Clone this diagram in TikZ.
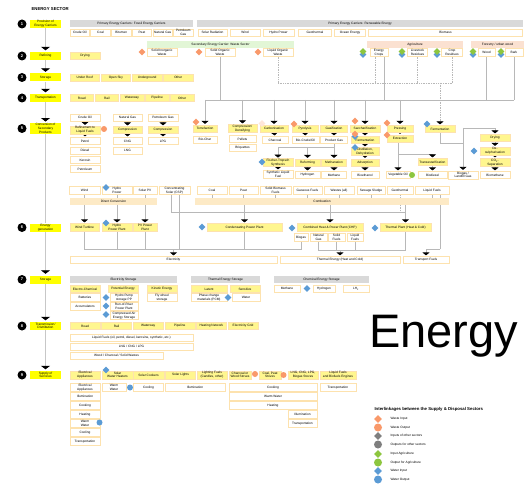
\documentclass[tikz,border=0pt]{standalone}
\usepackage{fontspec}
\setmainfont{Liberation Sans}
\usetikzlibrary{arrows.meta,shapes.geometric,backgrounds}

\definecolor{stageyel}{HTML}{FFFF00}
\definecolor{procyel}{HTML}{FFF68F}
\definecolor{edgeor}{HTML}{FDE2AE}
\definecolor{headgray}{HTML}{D9D9D9}
\definecolor{headgreen}{HTML}{E2F6D6}
\definecolor{headpeach}{HTML}{FBE1D1}
\definecolor{barbeige}{HTML}{FDEAC6}
\definecolor{wasteor}{HTML}{F9996A}
\definecolor{agrigreen}{HTML}{8DC63F}
\definecolor{waterblue}{HTML}{5B9BD5}
\definecolor{othergray}{HTML}{7F7F7F}
\definecolor{linkgray}{HTML}{B8B8B8}

\tikzset{
  stagebox/.style={fill=stageyel, minimum width=31pt, minimum height=8pt, inner sep=0.4pt, align=center},
  stagenum/.style={circle, fill=black, minimum size=9pt, inner sep=0pt, text=white, font=\fontsize{4}{4}\selectfont\bfseries},
  wbox/.style={draw=edgeor, line width=0.6pt, fill=white, minimum height=7pt, inner sep=0.3pt, align=center},
  ybox/.style={wbox, fill=procyel},
  hgray/.style={fill=headgray, minimum height=7pt, inner sep=0.3pt},
  hgreen/.style={hgray, fill=headgreen},
  hpeach/.style={hgray, fill=headpeach},
  hbar/.style={hgray, fill=barbeige},
  wdia/.style={diamond, fill=wasteor, minimum size=7pt, inner sep=0pt},
  wdot/.style={circle, fill=wasteor, minimum size=6pt, inner sep=0pt},
  bdia/.style={wdia, fill=waterblue},
  bdot/.style={wdot, fill=waterblue},
  gdia/.style={wdia, fill=agrigreen},
  gdot/.style={wdot, fill=agrigreen},
  odia/.style={wdia, fill=othergray},
  odot/.style={wdot, fill=othergray},
  link/.style={draw=linkgray, line width=0.7pt},
  dlink/.style={link, densely dotted},
  feed/.style={link, shorten >=0.8pt, -{Triangle[width=7pt,length=3pt,color=black]}},
  dfeed/.style={dlink, shorten >=0.8pt, -{Triangle[width=7pt,length=3pt,color=black]}},
  spine/.style={draw=black!22, line width=1.8pt},
}

\begin{document}
\begin{tikzpicture}[x=1pt, y=-1pt, font=\fontsize{3.2}{3.7}\selectfont]
  \begin{scope}[on background layer]
    \fill[white] (0,0) rectangle (530,492);
  \end{scope}
  \useasboundingbox (0,0) rectangle (530,492);

  \node[font=\fontsize{4.3}{5}\selectfont\bfseries, anchor=west] (title) at (28,9.5) {ENERGY SECTOR};

  % stages
  \foreach \n/\y/\t in {1/24/{Provision of\\Energy Carriers}, 2/56/Refining, 3/77.5/Storage, 4/98/Transportation, 5/128.5/{Conversion of\\Secondary\\Products}, 6/227.5/{Energy\\generation}, 7/279.5/Storage, 8/326/{Transmission/\\Distribution}, 9/375/{Supply of\\Services}}{
    \node[stagebox] (stage\n) at (45.5,\y) {\t};
    \node[stagenum] (num\n) at (22,\y) {\n};
  }

  % 1 provision
  \node[hgray, minimum width=123pt] (fossilhd) at (131.5,24) {Primary Energy Carriers: Fossil Energy Carriers};
  \foreach \n/\x/\t in {1/79.8/Crude Oil, 2/100.5/Coal, 3/121.2/Bitumen, 4/141.9/Peat, 5/162.6/Natural Gas, 6/183.3/{Petroleum\\Gas}}
    \node[wbox, minimum width=19.5pt] (fossil\n) at (\x,32.5) {\t};
  \node[hgray, minimum width=326pt] (renewhd) at (360,24) {Primary Energy Carriers: Renewable Energy};
  \node[wbox, minimum width=29pt] (solarsrc) at (212.5,32.5) {Solar Radiation};
  \node[wbox, minimum width=30pt] (windsrc1) at (245,32.5) {Wind};
  \node[wbox, minimum width=31pt] (hydsrc1) at (278.5,32.5) {Hydro Power};
  \node[wbox, minimum width=33pt] (geosrc1) at (315,32.5) {Geothermal};
  \node[wbox, minimum width=31pt] (oceansrc) at (350,32.5) {Ocean Energy};
  \node[wbox, minimum width=154pt] (biosrc) at (445.5,32.5) {Biomass};

  % 2 refining
  \node[ybox, minimum width=30pt, minimum height=7.5pt] (drying1) at (85,56) {Drying};
  \node[hgreen, minimum width=147pt] (wastehd) at (220.5,44.5) {Secondary Energy Carrier: Waste Sector};
  \node[wbox, minimum width=30pt, minimum height=8pt] (inorg) at (162,52.5) {Solid Inorganic\\Waste};
  \node[wbox, minimum width=30pt, minimum height=8pt] (orgsol) at (220,52.5) {Solid Organic\\Waste};
  \node[wbox, minimum width=30pt, minimum height=8pt] (orgliq) at (278,52.5) {Liquid Organic\\Waste};
  \node[wdia] (wd1) at (142,52) {};
  \node[wdia] (wd2) at (199,52) {};
  \node[wdia] (wd3) at (258,52) {};
  \node[hpeach, minimum width=96pt] (agrihd) at (415,44.5) {Agriculture};
  \node[hpeach, minimum width=53pt] (foresthd) at (497.5,44.5) {Forestry / urban wood};
  \node[wbox, minimum width=18pt, minimum height=8pt] (encrops) at (379,52.5) {Energy\\Crops};
  \node[wbox, minimum width=20pt, minimum height=8pt] (livest) at (417.5,52.5) {Livestock\\Residues};
  \node[wbox, minimum width=21pt, minimum height=8pt] (cropres) at (452,52.5) {Crop\\Residues};
  \node[wbox, minimum width=17pt, minimum height=8pt] (wood) at (486.5,52.5) {Wood};
  \node[wbox, minimum width=18pt, minimum height=8pt] (bark) at (514,52.5) {Bark};
  \foreach \n/\x in {1/363, 2/402, 3/437, 4/473, 5/501}{
    \node[bdia] (agb\n) at (\x,54.5) {};
    \node[gdia] (agg\n) at (\x,51.5) {};
  }

  % 3 storage, 4 transportation
  \foreach \n/\x/\t in {1/84.75/Under Roof, 2/115.9/Open Sky, 3/147.1/Underground, 4/178.25/Other}
    \node[ybox, minimum width=29.5pt] (stor\n) at (\x,77.5) {\t};
  \foreach \n/\x/\t in {1/81.8/Road, 2/106.9/Rail, 3/132/Waterway, 4/157.1/Pipeline, 5/182.2/Other}
    \node[ybox, minimum width=23.6pt] (transp\n) at (\x,98) {\t};

  % 5 conversion, fossil
  \node[wbox, minimum width=30pt] (crude5) at (85,117.5) {Crude Oil};
  \node[wbox, minimum width=29pt] (natgas5) at (127.5,117.5) {Natural Gas};
  \node[wbox, minimum width=30pt] (petgas5) at (163,117.5) {Petroleum Gas};
  \node[ybox, minimum width=30pt, minimum height=8pt] (refine) at (85,130) {Refinement to\\Liquid Fuels};
  \node[wdot] (wo1) at (104,129) {};
  \node[ybox, minimum width=29pt] (compr1) at (127.5,130) {Compression};
  \node[ybox, minimum width=30pt] (compr2) at (163,130) {Compression};
  \foreach \n/\y/\t in {1/141/Petrol, 2/150.5/Diesel, 3/160/Kerosin, 4/169/Petroleum}
    \node[wbox, minimum width=30pt] (fuel\n) at (85,\y) {\t};
  \node[wbox, minimum width=29pt] (cng) at (127.5,141) {CNG};
  \node[wbox, minimum width=29pt] (lng) at (127.5,150.5) {LNG};
  \node[wbox, minimum width=30pt] (lpg) at (163,141) {LPG};

  % 5 conversion, biomass
  \node[ybox, minimum width=24pt] (torref) at (205,128.5) {Torrefaction};
  \node[ybox, minimum width=29pt, minimum height=8pt] (densif) at (242.5,128.5) {Compression/\\Densifying};
  \node[ybox, minimum width=28pt] (carbon) at (274,128.5) {Carbonisation};
  \node[ybox, minimum width=26pt] (pyrol) at (305,128.5) {Pyrolysis};
  \node[ybox, minimum width=27pt] (gasif) at (334,128.5) {Gasification};
  \node[ybox, minimum width=30pt] (saccha) at (365,128.5) {Saccharification};
  \node[ybox, minimum width=26pt] (press) at (400,128.5) {Pressing};
  \node[ybox, minimum width=30pt] (ferm2) at (440,129) {Fermentation};
  \node[wbox, minimum width=24pt] (biochar) at (205,139.5) {Bio-Char};
  \node[wbox, minimum width=27pt] (pellets) at (242.5,139) {Pellets};
  \node[wbox, minimum width=27pt] (briq) at (242.5,148) {Briquettes};
  \node[wbox, minimum width=26pt] (charcoal) at (275,140) {Charcoal};
  \node[wbox, minimum width=27pt] (biocrude) at (305.5,140) {Bio-Crude/Oil};
  \node[wbox, minimum width=27pt] (prodgas) at (334,140) {Product Gas};
  \node[ybox, minimum width=28pt] (ferm1) at (365,140) {Fermentation};
  \node[ybox, minimum width=28pt, minimum height=8pt] (distil) at (365,151.5) {Distillation,\\Dehydration};
  \node[ybox, minimum width=28pt] (adsorp) at (365,162.5) {Adsorption};
  \node[wbox, minimum width=28pt] (bioeth) at (365,175) {Bioethanol};
  \node[ybox, minimum width=26pt] (extract) at (400,138.5) {Extraction};
  \node[wbox, minimum width=24pt] (vegoil) at (398,175) {Vegetable Oil};
  \node[ybox, minimum width=29pt] (transest) at (432.5,162) {Transesterification};
  \node[wbox, minimum width=29pt] (biodies) at (432.5,175) {Biodiesel};
  \node[ybox, minimum width=30pt] (drying2) at (495,138) {Drying};
  \node[ybox, minimum width=30pt, minimum height=8pt] (desulph) at (495,151) {De-\\sulphurisation};
  \node[ybox, minimum width=30pt, minimum height=8pt] (co2sep) at (495,162.5) {CO\textsubscript{2}-\\Separation};
  \node[wbox, minimum width=30pt] (biometh) at (495,175) {Biomethane};
  \node[wbox, minimum width=30pt, minimum height=8pt] (biogas) at (463,175) {Biogas /\\Landfill Gas};
  \node[ybox, minimum width=30pt, minimum height=7.5pt] (ftsyn) at (278,162.5) {Fischer-Tropsch\\Synthesis};
  \node[wbox, minimum width=30pt, minimum height=8pt] (synfuel) at (278,174.5) {Synthetic Liquid\\Fuel};
  \node[ybox, minimum width=25pt] (reform) at (307.5,162.5) {Reforming};
  \node[wbox, minimum width=25pt] (hydrog5) at (307.5,175) {Hydrogen};
  \node[ybox, minimum width=25pt] (methan) at (334,162.5) {Methanation};
  \node[wbox, minimum width=25pt] (methane5) at (334,175) {Methane};
  \node[wdia] (wd4) at (196,122) {};
  \node[wdia, fill=wasteor!25] (wd5) at (262,123.5) {};
  \node[wdia] (wd6) at (294,124) {};
  \node[wdia] (wd7) at (355,121) {};
  \node[bdia] (bd1) at (355,136.5) {};
  \node[wdia] (wd8) at (355,134) {};
  \node[bdia] (bd2) at (355,147.5) {};
  \node[wdia] (wd9) at (387,123) {};
  \node[wdia] (wd10) at (387,135) {};
  \node[bdia] (bd3) at (427,124) {};
  \node[bdia] (bd4) at (474,151) {};
  \node[bdia] (bd5) at (262,162) {};
  \node[gdot] (go1) at (412,175) {};

  % 6 energy generation
  \node[wbox, minimum width=31pt, minimum height=8pt] (windsrc) at (84.5,190.5) {Wind};
  \node[wbox, minimum width=30pt, minimum height=8pt] (hydsrc) at (117,190.5) {Hydro\\Power};
  \node[wbox, minimum width=24pt, minimum height=8pt] (pvsrc) at (145,190.5) {Solar PV};
  \node[wbox, minimum width=31pt, minimum height=8pt] (csp) at (174.5,190.5) {Concentrating\\Solar (CSP)};
  \node[wbox, minimum width=30pt, minimum height=8pt] (coal6) at (212,190.5) {Coal};
  \node[wbox, minimum width=29pt, minimum height=8pt] (peat6) at (243.5,190.5) {Peat};
  \node[wbox, minimum width=31pt, minimum height=8pt] (solbio) at (275.5,190.5) {Solid Biomass\\Fuels};
  \node[wbox, minimum width=29pt, minimum height=8pt] (gasf) at (307.5,190.5) {Gaseous Fuels};
  \node[wbox, minimum width=30pt, minimum height=8pt] (wastes) at (339,190.5) {Wastes (all)};
  \node[wbox, minimum width=28pt, minimum height=8pt] (sewage) at (371,190.5) {Sewage Sludge};
  \node[wbox, minimum width=26pt, minimum height=8pt] (geoth) at (400,190.5) {Geothermal};
  \node[wbox, minimum width=34pt, minimum height=8pt] (liqf) at (432,190.5) {Liquid Fuels};
  \node[bdia] (bd6) at (106,187.5) {};
  \node[hbar, minimum width=87pt] (dirconv) at (113.5,201.5) {Direct Conversion};
  \node[hbar, minimum width=254pt] (combust) at (322,201.5) {Combustion};
  \node[ybox, minimum width=29pt, minimum height=8pt] (wturb) at (84.5,227.5) {Wind Turbine};
  \node[ybox, minimum width=30pt, minimum height=8pt] (hydpp) at (117,227.5) {Hydro\\Power Plant};
  \node[ybox, minimum width=24pt, minimum height=8pt] (pvpp) at (145,227.5) {PV Power\\Plant};
  \node[ybox, minimum width=75pt, minimum height=8pt] (condens) at (244.5,227.5) {Condensating Power Plant};
  \node[ybox, minimum width=66pt, minimum height=8pt] (chp) at (330,227.5) {Combined Heat \& Power Plant (CHP)};
  \node[ybox, minimum width=51pt, minimum height=8pt] (thermpl) at (405.5,227.5) {Thermal Plant (Heat \& Cold)};
  \node[bdia] (bd7) at (106,223) {};
  \node[bdia] (bd8) at (202,227) {};
  \node[bdia] (bd9) at (292,228) {};
  \node[bdia] (bd10) at (375,228) {};
  \node[wbox, minimum width=14pt, minimum height=8pt] (chpbg) at (301,237.5) {Biogas};
  \node[wbox, minimum width=17pt, minimum height=8pt] (chpng) at (318.5,237.5) {Natural\\Gas};
  \node[wbox, minimum width=17pt, minimum height=8pt] (chpsf) at (336.5,237.5) {Solid\\Fuels};
  \node[wbox, minimum width=16pt, minimum height=8pt] (chplf) at (355,237.5) {Liquid\\Fuels};
  \node[wbox, minimum width=207pt] (elec) at (173.5,260) {Electricity};
  \node[wbox, minimum width=120pt] (theng) at (340,260) {Thermal Energy (Heat and Cold)};
  \node[wbox, minimum width=46pt] (tfuel) at (426,260) {Transport Fuels};

  % 7 storage
  \node[hgray, minimum width=107pt] (elstorhd) at (123.5,279.5) {Electricity Storage};
  \node[ybox, minimum width=30pt] (elchem) at (85,289) {Electro-Chemical};
  \node[ybox, minimum width=30pt] (potent) at (123,289) {Potential Energy};
  \node[ybox, minimum width=30pt] (kinet) at (162,289) {Kinetic Energy};
  \node[wbox, minimum width=30pt, minimum height=8pt] (batt) at (85,297.5) {Batteries};
  \node[wbox, minimum width=30pt, minimum height=8pt] (accum) at (85,306.5) {Accumulators};
  \node[wbox, minimum width=28pt, minimum height=8pt] (pumpst) at (124,297.5) {Hydro Pump\\storage PP};
  \node[wbox, minimum width=28pt, minimum height=8pt] (rorpp) at (124,306.5) {Run-of-River\\Power Plant};
  \node[wbox, minimum width=28pt, minimum height=8pt] (caes) at (124,315.5) {Compressed Air\\Energy Storage};
  \node[wbox, minimum width=30pt, minimum height=8pt] (flywh) at (162,297.5) {Fly wheel\\storage};
  \node[bdia] (bd11) at (106,297.5) {};
  \node[bdia] (bd12) at (106,306) {};
  \node[bdia] (bd13) at (106,314.5) {};
  \node[hgray, minimum width=69pt] (thstorhd) at (225.5,279.5) {Thermal Energy Storage};
  \node[ybox, minimum width=36pt] (latent) at (209,289) {Latent};
  \node[ybox, minimum width=30pt] (sensit) at (245,289) {Sensitive};
  \node[wbox, minimum width=36pt, minimum height=8pt] (pcm) at (209,297.5) {Phase change\\materials (PCM)};
  \node[wbox, minimum width=28pt, minimum height=8pt] (water7) at (246,297.5) {Water};
  \node[bdia] (bd14) at (228,297.5) {};
  \node[hgray, minimum width=95pt] (chstorhd) at (321.5,279.5) {Chemical Energy Storage};
  \node[wbox, minimum width=26pt] (methane7) at (287,288.5) {Methane};
  \node[wbox, minimum width=22pt] (hydrog7) at (324,288.5) {Hydrogen};
  \node[wbox, minimum width=26pt] (lh7) at (356,288.5) {LH\textsubscript{2}};
  \node[bdia] (bd15) at (307,288.5) {};

  % 8 transmission
  \foreach \n/\x/\t in {1/85/Road, 2/116.6/Rail, 3/148.2/Waterway, 4/179.8/Pipeline, 5/211.4/Heating Network, 6/243/Electricity Grid}
    \node[ybox, minimum width=30pt] (trans\n) at (\x,326) {\t};
  \node[wbox, minimum width=123pt] (liqdist) at (131.5,338) {Liquid Fuels (oil, petrol, diesel, kerosine, synthetic, etc.)};
  \node[wbox, minimum width=123pt] (gasdist) at (131.5,346.5) {LNG / CNG / LPG};
  \node[wbox, minimum width=93pt] (soldist) at (116.5,355.5) {Wood / Charcoal / Solid Wastes};

  % 9 supply of services
  \node[ybox, minimum width=30pt, minimum height=8pt] (elappl) at (85,375) {Electrical\\Appliances};
  \node[ybox, minimum width=31pt, minimum height=8pt] (solwh) at (117.5,375) {Solar\\Water Heaters};
  \node[ybox, minimum width=31pt, minimum height=8pt] (solcook) at (148.5,375) {Solar Cookers};
  \node[ybox, minimum width=30pt, minimum height=8pt] (sollight) at (180.5,375) {Solar Lights};
  \node[ybox, minimum width=30pt, minimum height=8pt] (lightf) at (212,375) {Lighting Fuels\\(Candles, other)};
  \node[ybox, minimum width=22pt, minimum height=8pt] (woodst) at (240,375) {Charcoal or\\Wood Stoves};
  \node[ybox, minimum width=22pt, minimum height=8pt] (coalst) at (270,375) {Coal, Peat\\Stoves};
  \node[ybox, minimum width=30pt, minimum height=8pt] (gasst) at (303,375) {LNG, CNG, LPG,\\Biogas Stoves};
  \node[ybox, minimum width=36pt, minimum height=8pt] (engines) at (338,375) {Liquid Fuels\\and Biofuels Engines};
  \node[bdia] (bd16) at (106,370) {};
  \node[wdot] (wo2) at (255,374) {};
  \node[wdot] (wo3) at (283.5,375) {};
  \foreach \n/\y/\t in {1/387.5/{Electrical\\Appliances}, 2/396.5/Illumination, 3/405.5/Cooking, 4/414.5/Heating, 5/423.5/{Warm\\Water}, 6/432.5/Cooling, 7/441.5/Transportation}
    \node[wbox, minimum width=30pt, minimum height=8pt] (serv\n) at (85,\y) {\t};
  \node[bdot] (bo1) at (99.5,422.5) {};
  \node[wbox, minimum width=24pt, minimum height=8pt] (warmw) at (114,387.5) {Warm\\Water};
  \node[bdot] (bo2) at (130,387.5) {};
  \node[wbox, minimum width=30pt, minimum height=8pt] (coolg) at (148.5,387.5) {Cooling};
  \node[wbox, minimum width=60pt, minimum height=8pt] (illum) at (195,387.5) {Illumination};
  \node[wbox, minimum width=88pt, minimum height=8pt] (cookst) at (273,387.5) {Cooking};
  \node[wbox, minimum width=88pt, minimum height=8pt] (warmst) at (273,396.5) {Warm Water};
  \node[wbox, minimum width=88pt, minimum height=8pt] (heatst) at (273,405.5) {Heating};
  \node[wbox, minimum width=29pt, minimum height=8pt] (illumst) at (302.5,414.5) {Illumination};
  \node[wbox, minimum width=29pt, minimum height=8pt] (transst) at (302.5,423.5) {Transportation};
  \node[wbox, minimum width=36pt, minimum height=8pt] (transeng) at (338,387.5) {Transportation};

  % legend
  \node[font=\fontsize{4.3}{5}\selectfont\bfseries, anchor=west] (leghd) at (371,409) {Interlinkages between the Supply \& Disposal Sectors};
  \foreach \n/\y/\s/\t in {1/419/wdia/Waste Input, 2/427.5/wdot/Waste Output, 3/436/odia/Inputs of other sectors, 4/444.5/odot/Outputs for other sectors, 5/454/gdia/Input Agriculture, 6/462.5/gdot/Output for Agriculture, 7/471/bdia/Water Input, 8/479.5/bdot/Water Output}{
    \node[\s, minimum size=8pt] (legsym\n) at (378,\y) {};
    \node[anchor=west] (legtxt\n) at (387,\y) {\t};
  }
  \node[font=\fontsize{47}{47}\selectfont, anchor=base west, inner sep=0pt] (bigword) at (369,347) {Energy};

  % connectors
  \begin{scope}[on background layer]
    \foreach \a/\b in {1/2, 2/3, 3/4, 4/5, 6/7, 7/8, 8/9}
      \draw[spine, shorten >=1.5pt, -{Triangle[width=9pt,length=3.5pt,color=black]}] (stage\a) -- (stage\b);
    \draw[spine] (stage5) -- (stage6);

    \draw[feed] (crude5) -- (refine);
    \draw[feed] (natgas5) -- (compr1);
    \draw[feed] (petgas5) -- (compr2);
    \draw[feed] (refine) -- (fuel1);
    \draw[feed] (compr1) -- (cng);
    \draw[feed] (compr2) -- (lpg);

    \coordinate (bioL) at (205,100);
    \coordinate (bioR) at (514,100);
    \coordinate (dotL) at (278,83);
    \coordinate (dotR) at (452,83);
    \draw[link] (bioL) -- (bioR);
    \draw[link] (orgsol) -- (orgsol |- bioL);
    \draw[link] (wood) -- (wood |- bioL);
    \draw[link] (bark) -- (bark |- bioL);
    \draw[link] ([xshift=5pt]encrops.south) -- ([xshift=5pt]encrops.south |- bioL);
    \draw[dlink] (dotL) -- (dotR);
    \draw[dlink] (orgliq) -- (orgliq |- dotL);
    \draw[dlink] ([xshift=-4pt]encrops.south) -- ([xshift=-4pt]encrops.south |- dotL);
    \draw[dlink] (livest) -- (livest |- dotL);
    \draw[dlink] (cropres) -- (cropres |- dotL);
    \draw[dfeed] (ferm2 |- dotL) -- (ferm2);
    \foreach \p in {torref, densif, carbon, pyrol, gasif, saccha, press}
      \draw[feed] (\p |- bioL) -- (\p);

    \draw[feed] (carbon) -- (charcoal);
    \draw[feed] (pyrol) -- (biocrude);
    \draw[feed] (gasif) -- (prodgas);
    \draw[feed] (saccha) -- (ferm1);
    \draw[feed] (ferm1) -- (distil);
    \draw[feed] (distil) -- (adsorp);
    \draw[feed] (adsorp) -- (bioeth);
    \coordinate (pgbus) at (278,147.5);
    \draw[link] (prodgas) -- (prodgas |- pgbus) -- (pgbus);
    \draw[feed] (pgbus) -- (ftsyn);
    \draw[feed] (reform |- pgbus) -- (reform);
    \draw[feed] (prodgas |- pgbus) -- (methan);
    \draw[feed] (ftsyn) -- (synfuel);
    \draw[feed] (reform) -- (hydrog5);
    \draw[feed] (methan) -- (methane5);
    \draw[feed] (press) -- (extract);
    \coordinate (exbend) at (398,154);
    \draw[feed] (extract.south -| vegoil) -- (vegoil);
    \draw[feed] (exbend) -| (transest);
    \draw[feed] (transest) -- (biodies);
    \coordinate (fmbend) at (440,143.5);
    \coordinate (gasup) at (463,128);
    \draw[link] (ferm2) -- (fmbend) -- (fmbend -| gasup);
    \draw[feed] (gasup) -- (biogas);
    \draw[feed] (gasup) -| (drying2);
    \draw[feed] (drying2) -- (desulph);
    \draw[feed] (desulph) -- (co2sep);
    \draw[feed] (co2sep) -- (biometh);

    \draw[feed] (windsrc) -- (wturb);
    \draw[feed] (hydsrc) -- (hydpp);
    \draw[feed] (pvsrc) -- (pvpp);
    \foreach \f in {coal6, peat6, solbio, gasf, wastes, sewage, liqf}
      \draw[link] (\f) -- (\f |- combust.north);
    \draw[feed] (condens |- combust.south) -- (condens);
    \draw[feed] (chp |- combust.south) -- (chp);
    \draw[feed] (thermpl |- combust.south) -- (thermpl);
    \coordinate (cspbend) at (171,212.5);
    \draw[link] (csp.south -| cspbend) -- (cspbend) -- (cspbend -| thermpl);
    \draw[dlink] (geoth) -- (geoth |- cspbend);
    \coordinate (tfbend) at (440,249);
    \draw[link] (liqf.south -| tfbend) -- (tfbend);
    \draw[feed] (tfbend) -| (tfuel);
    \coordinate (ebusL) at (84.5,249.5);
    \coordinate (ebusR) at (301,249.5);
    \draw[link] (ebusL) -- (ebusR);
    \foreach \p in {wturb, hydpp, pvpp, condens, chpbg}
      \draw[link] (\p) -- (\p |- ebusL);
    \draw[link] ([xshift=5pt]csp.south) -- ([xshift=5pt]csp.south |- ebusL);
    \draw[feed] (elec.north |- ebusL) -- (elec);
    \coordinate (tbusL) at (318.5,250.5);
    \coordinate (tbusR) at (405.5,250.5);
    \draw[link] (tbusL) -- (tbusR);
    \foreach \p in {chpng, chpsf, chplf, thermpl}
      \draw[link] (\p) -- (\p |- tbusL);
    \draw[feed] (theng.north |- tbusL) -- (theng);
  \end{scope}
\end{tikzpicture}
\end{document}
